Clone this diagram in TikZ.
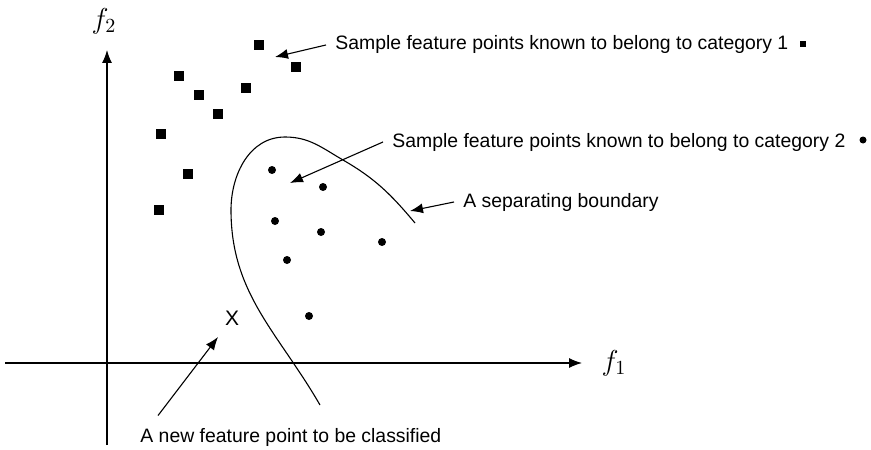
\documentclass[tikz,border=0pt]{standalone}
\usepackage{fontspec}
\setmainfont{Liberation Sans}
\usetikzlibrary{arrows.meta}

\tikzset{
  catone/.style={rectangle, fill=black, inner sep=0pt, minimum size=5pt},
  cattwo/.style={circle, fill=black, inner sep=0pt, minimum size=4pt},
  callout/.style={-{Latex[length=6.5pt,width=5pt]}, line width=0.55pt},
  lbl/.style={anchor=base west, inner xsep=4.5pt, inner ysep=0pt, font=\fontsize{9.7}{11}\selectfont},
  axislbl/.style={inner sep=0pt, font=\fontsize{14}{16}\selectfont},
}

\begin{document}
\begin{tikzpicture}[x=0.5pt, y=0.5pt]
\useasboundingbox (0,0) rectangle (871,-449);
%axes
\coordinate (xstart) at (5,-363);
\coordinate (xend) at (582,-363);
\coordinate (ystart) at (107,-445);
\coordinate (yend) at (107,-50);
\draw[callout] (xstart) -- (xend);
\draw[callout] (ystart) -- (yend);
\node[axislbl] (fone) at (614,-363) {$f_1$};
\node[axislbl] (ftwo) at (104,-21) {$f_2$};

%category 1 samples
\foreach \p [count=\i] in {(259,-45),(296,-67),(179,-76),(199,-95),(246,-88),
                           (218,-114),(161,-134),(188,-174),(159,-210)}
  \node[catone] (sq\i) at \p {};
%category 2 samples
\foreach \p [count=\i] in {(272,-170),(323,-187),(275,-221),(321,-232),
                           (382,-242),(287,-260),(309,-316)}
  \node[cattwo] (dot\i) at \p {};

%the separating boundary
\draw[line width=0.55pt]
  (415,-223) to[out=130, in=-30]
  (343,-160) to[out=150, in=0]
  (285,-137) to[out=180, in=90] %top of the loop
  (231,-210) to[out=-90, in=120] %left side
  (320,-405);

%new point
\node[inner sep=0pt, font=\fontsize{10.5}{12}\selectfont] (newpt) at (232,-318) {X};

%labels
\node[lbl] (catonetxt) at (326,-50) {Sample feature points known to belong to category 1};
\node[catone, minimum size=3pt] (catonekey) at (803,-44) {};
\node[lbl] (cattwotxt) at (383,-147) {Sample feature points known to belong to category 2};
\node[cattwo, minimum size=3.5pt] (cattwokey) at (863,-140) {};
\node[lbl] (bndtxt) at (454,-207) {A separating boundary};
\node[lbl] (newtxt) at (131,-442) {A new feature point to be classified};

%arrow tips
\coordinate (catonetip) at (275,-57);
\coordinate (cattwotip) at (290,-183);
\coordinate (bndtip) at (410,-211);
\coordinate (newtip) at (218,-337);

\draw[callout] (catonetxt.west) -- (catonetip);
\draw[callout] (cattwotxt.west) -- (cattwotip);
\draw[callout] (bndtxt.west) -- (bndtip);
\draw[callout] ([xshift=13.5pt, yshift=6pt]newtxt.north west) -- (newtip);
\end{tikzpicture}
\end{document}
